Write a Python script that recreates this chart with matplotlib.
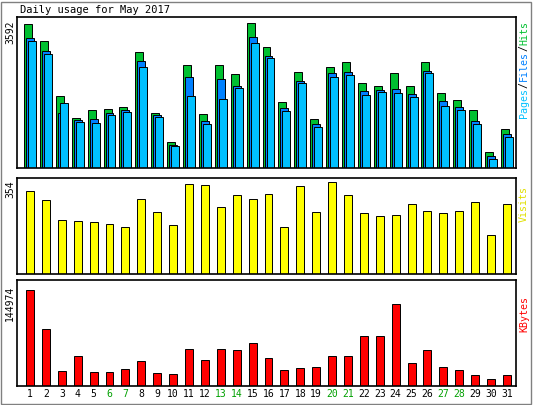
import matplotlib
matplotlib.use("Agg")
import matplotlib.pyplot as plt
import numpy as np

days = list(range(1, 32))
weekend = [6, 7, 13, 14, 20, 21, 27, 28]
hits_px = [144,127,72,50,58,59,61,116,55,26,103,54,103,94,145,121,66,96,49,101,106,85,82,95,82,106,75,68,58,16,39]
files_px = [130,117,55,48,49,55,58,107,53,23,91,47,89,82,131,112,60,87,44,95,96,77,78,79,74,97,67,61,47,12,34]
pages_px = [127,114,65,46,45,53,56,101,51,22,72,44,69,80,125,110,57,85,41,91,93,73,76,75,71,95,62,58,44,9,31]
hits = [round(v*24.94) for v in hits_px]
files = [round(v*24.94) for v in files_px]
pages = [round(v*24.94) for v in pages_px]
visits_px = [83,74,54,53,52,50,47,75,62,49,90,89,67,79,75,80,47,88,62,92,79,61,58,59,70,63,61,63,72,39,70]
visits = [round(v*3.85) for v in visits_px]
kb_px = [96,57,15,30,14,14,17,25,13,12,37,26,37,36,43,28,16,18,19,30,30,50,50,82,23,36,19,16,11,7,11]
kbytes = [round(v*1510) for v in kb_px]

W, H = 533, 405
fig = plt.figure(figsize=(W/100, H/100), dpi=100, facecolor="#ffffff")
mono = "DejaVu Sans Mono"

fig.add_artist(plt.Rectangle((1/W, 1/H), (W-3)/W, (H-3)/H, transform=fig.transFigure,
                             fill=False, edgecolor="#808080", lw=1))

def ax_at(y0, y1):
    return fig.add_axes([17/W, 1-y1/H, (516-17)/W, (y1-y0)/H])

x = np.array(days)
xlim = (0.18, 31.57)
bw = 0.5
off = 0.125

ax1 = ax_at(17, 168)
ax1.bar(x-off, hits, bw, color="#00c030", edgecolor="black", lw=0.7)
ax1.bar(x, files, bw, color="#0080ff", edgecolor="black", lw=0.7)
ax1.bar(x+off, pages, bw, color="#00c0ff", edgecolor="black", lw=0.7)
ax1.set_ylim(0, 3592*151/144)

ax2 = ax_at(178, 274)
ax2.bar(x, visits, bw, color="#ffff00", edgecolor="black", lw=0.7)
ax2.set_ylim(0, 354*96/92)

ax3 = ax_at(280, 386)
ax3.bar(x, kbytes, bw, color="#ff0000", edgecolor="black", lw=0.7)
ax3.set_ylim(0, 144974*106/96)

for a in (ax1, ax2, ax3):
    a.set_xlim(*xlim)
    a.set_xticks([]); a.set_yticks([])
    for s in a.spines.values():
        s.set_linewidth(1.2)

for d in days:
    fig.text((17 + (d - xlim[0]) / (xlim[1]-xlim[0]) * 499) / W, 1-394/H, str(d),
             ha="center", va="center", fontsize=7, family=mono,
             color="#00a000" if d in weekend else "black")

fig.text(20/W, 1-10/H, "Daily usage for May 2017", fontsize=7.5, family=mono, va="center", ha="left")
fig.text(10/W, 1-20/H, "3592", rotation=90, fontsize=7, family=mono, va="top", ha="center")
fig.text(10/W, 1-180/H, "354", rotation=90, fontsize=7, family=mono, va="top", ha="center")
fig.text(10/W, 1-286/H, "144974", rotation=90, fontsize=7, family=mono, va="top", ha="center")

# right labels, reading bottom-to-top
def vlabel(parts, ybottom, cw=6.1):
    y = ybottom
    for txt, col in parts:
        fig.text(524/W, 1-y/H, txt, rotation=90, fontsize=7.2, family=mono, color=col,
                 va="bottom", ha="center")
        y -= len(txt) * cw

vlabel([("Pages", "#00c0ff"), ("/", "black"), ("Files", "#0080ff"), ("/", "black"), ("Hits", "#00c030")], 118)
vlabel([("Visits", "#e0e000")], 222)
vlabel([("KBytes", "#ff0000")], 332)

fig.savefig("out.png", dpi=100, facecolor=fig.get_facecolor())
